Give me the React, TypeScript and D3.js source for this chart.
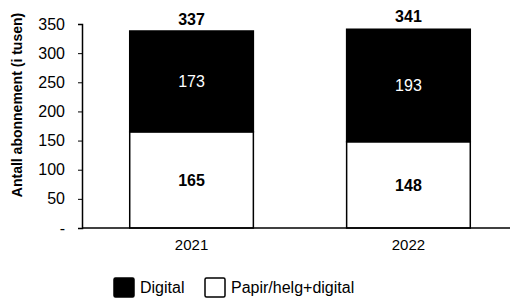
import { useEffect, useRef } from "react";
import * as d3 from "d3";

const YEARS = ["2021", "2022"];
const PAPIR = [165, 148];
const DIGITAL = [173, 193];
const TOTALS = [337, 341];
const Y_TICKS = [0, 50, 100, 150, 200, 250, 300, 350];
const SERIES = ["Papir/helg+digital", "Digital"];
const LEGEND_ORDER = ["Digital", "Papir/helg+digital"];

const W = 510;
const H = 302;
const margin = { top: 24, right: 0, bottom: 74, left: 82 };
const FONT = "Arial, 'Liberation Sans', sans-serif";

export default function App() {
  const ref = useRef<SVGSVGElement>(null);

  useEffect(() => {
    const svg = d3.select(ref.current);
    svg.selectAll("*").remove();

    const rows = YEARS.map((year, i) => ({
      year,
      "Papir/helg+digital": PAPIR[i],
      Digital: DIGITAL[i],
      total: TOTALS[i],
    }));

    const x = d3
      .scaleBand()
      .domain(YEARS)
      .range([margin.left, 518])
      .paddingInner(0.43)
      .paddingOuter(0.22);

    const y = d3
      .scaleLinear()
      .domain([0, 350])
      .range([H - margin.bottom, margin.top]);

    const fill: Record<string, string> = {
      Digital: "#000",
      "Papir/helg+digital": "#fff",
    };

    const stacked = d3.stack<any>().keys(SERIES)(rows);

    // bars
    svg
      .append("g")
      .selectAll("g")
      .data(stacked)
      .join("g")
      .attr("fill", (s) => fill[s.key])
      .selectAll("rect")
      .data((s) => s)
      .join("rect")
      .attr("x", (d) => x(d.data.year)!)
      .attr("y", (d) => y(d[1]))
      .attr("width", x.bandwidth())
      .attr("height", (d) => y(d[0]) - y(d[1]))
      .attr("stroke", "#000")
      .attr("stroke-width", 1.5);

    // segment labels
    stacked.forEach((s) => {
      svg
        .append("g")
        .selectAll("text")
        .data(s)
        .join("text")
        .attr("x", (d) => x(d.data.year)! + x.bandwidth() / 2)
        .attr("y", (d) => (y(d[0]) + y(d[1])) / 2)
        .attr("dy", "0.36em")
        .attr("text-anchor", "middle")
        .attr("font-family", FONT)
        .attr("font-size", 16)
        .attr("font-weight", s.key === "Digital" ? "normal" : "bold")
        .attr("fill", s.key === "Digital" ? "#fff" : "#000")
        .text((d) => d[1] - d[0]);
    });

    // totals
    svg
      .append("g")
      .selectAll("text")
      .data(rows)
      .join("text")
      .attr("x", (d) => x(d.year)! + x.bandwidth() / 2)
      .attr("y", (d) => y(d.total) - 7)
      .attr("text-anchor", "middle")
      .attr("font-family", FONT)
      .attr("font-size", 16)
      .attr("font-weight", "bold")
      .text((d) => d.total);

    // y axis
    const yAxis = svg
      .append("g")
      .attr("transform", `translate(${margin.left},0)`)
      .call(
        d3
          .axisLeft(y)
          .tickValues(Y_TICKS)
          .tickSize(4)
          .tickPadding(13)
          .tickFormat((d) => (d === 0 ? "-" : String(d)))
      );
    yAxis.select(".domain").attr("stroke", "#000").attr("stroke-width", 1.5);
    yAxis
      .selectAll("text")
      .attr("font-family", FONT)
      .attr("font-size", 16)
      .attr("fill", "#000");

    // x axis
    const xAxis = svg
      .append("g")
      .attr("transform", `translate(0,${H - margin.bottom})`)
      .call(d3.axisBottom(x).tickSize(0).tickPadding(11));
    xAxis
      .select(".domain")
      .attr("d", `M${margin.left},0H${W}`)
      .attr("stroke", "#000")
      .attr("stroke-width", 1.5);
    xAxis
      .selectAll("text")
      .attr("font-family", FONT)
      .attr("font-size", 15)
      .attr("fill", "#000");

    // y title
    svg
      .append("text")
      .attr("transform", `translate(22,${(margin.top + H - margin.bottom) / 2 - 21}) rotate(-90)`)
      .attr("text-anchor", "middle")
      .attr("font-family", FONT)
      .attr("font-size", 14)
      .attr("font-weight", "bold")
      .text("Antall abonnement (i tusen)");

    // legend
    const legendX = [114, 205];
    const legend = svg
      .append("g")
      .selectAll("g")
      .data(LEGEND_ORDER)
      .join("g")
      .attr("transform", (_d, i) => `translate(${legendX[i]},278)`);
    legend
      .append("rect")
      .attr("width", 20)
      .attr("height", 19)
      .attr("rx", 1.5)
      .attr("fill", (d) => fill[d])
      .attr("stroke", "#000")
      .attr("stroke-width", 1.5);
    legend
      .append("text")
      .attr("x", 26)
      .attr("y", 15)
      .attr("font-family", FONT)
      .attr("font-size", 16)
      .text((d) => d);
  }, []);

  return (
    <svg
      ref={ref}
      width={W}
      height={H}
      style={{ position: "absolute", left: 0, top: 0, background: "#fff" }}
    />
  );
}
